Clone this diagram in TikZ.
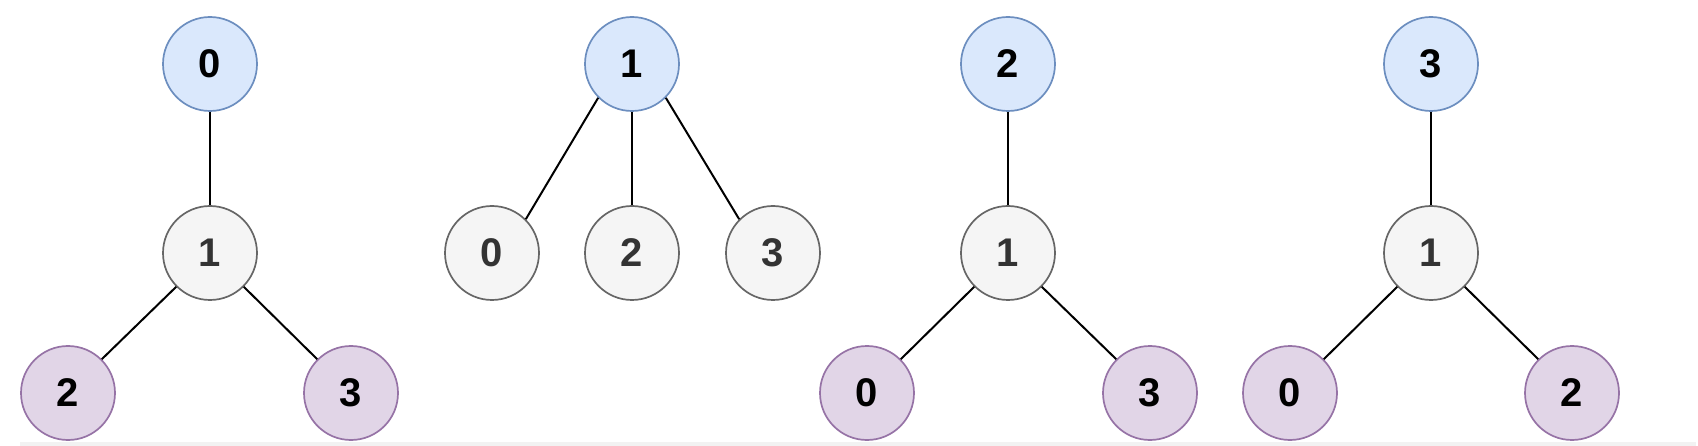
\documentclass[tikz,border=0pt]{standalone}
\usepackage{fontspec}
\setmainfont{Liberation Sans}
\definecolor{bfill}{HTML}{DAE8FC}
\definecolor{bdraw}{HTML}{6C8EBF}
\definecolor{gfill}{HTML}{F5F5F5}
\definecolor{gdraw}{HTML}{666666}
\definecolor{gtext}{HTML}{333333}
\definecolor{pfill}{HTML}{E1D5E7}
\definecolor{pdraw}{HTML}{9673A6}
\definecolor{band}{HTML}{F2F2F2}
\begin{document}
\begin{tikzpicture}[x=1pt,y=-1pt,
  vert/.style={circle,minimum size=94pt,inner sep=0pt,line width=1.7pt,
    font=\fontsize{40}{48}\selectfont\bfseries},
  rootn/.style={vert,draw=bdraw,fill=bfill,text=black},
  midn/.style={vert,draw=gdraw,fill=gfill,text=gtext},
  leafn/.style={vert,draw=pdraw,fill=pfill,text=black},
  edge/.style={line width=2pt,black}]
\useasboundingbox (0,0) rectangle (1698,446);
\fill[band] (20,442) rectangle (1696,446);
% tree 1
\node[rootn] (a0) at (210,64) {0};
\node[midn] (a1) at (210,253) {1};
\node[leafn] (a2) at (68,393) {2};
\node[leafn] (a3) at (351,393) {3};
\draw[edge] (a0) -- (a1);
\draw[edge] (a1.225) -- (a2.45);
\draw[edge] (a1.-45) -- (a3.135);
% tree 2
\node[rootn] (b1) at (632,64) {1};
\node[midn] (b0) at (492,253) {0};
\node[midn] (b2) at (632,253) {2};
\node[midn] (b3) at (773,253) {3};
\draw[edge] (b1.225) -- (b0.45);
\draw[edge] (b1) -- (b2);
\draw[edge] (b1.-45) -- (b3.135);
% tree 3
\node[rootn] (c2) at (1008,64) {2};
\node[midn] (c1) at (1008,253) {1};
\node[leafn] (c0) at (867,393) {0};
\node[leafn] (c3) at (1150,393) {3};
\draw[edge] (c2) -- (c1);
\draw[edge] (c1.225) -- (c0.45);
\draw[edge] (c1.-45) -- (c3.135);
% tree 4
\node[rootn] (d3) at (1431,64) {3};
\node[midn] (d1) at (1431,253) {1};
\node[leafn] (d0) at (1290,393) {0};
\node[leafn] (d2) at (1572,393) {2};
\draw[edge] (d3) -- (d1);
\draw[edge] (d1.225) -- (d0.45);
\draw[edge] (d1.-45) -- (d2.135);
\end{tikzpicture}
\end{document}
